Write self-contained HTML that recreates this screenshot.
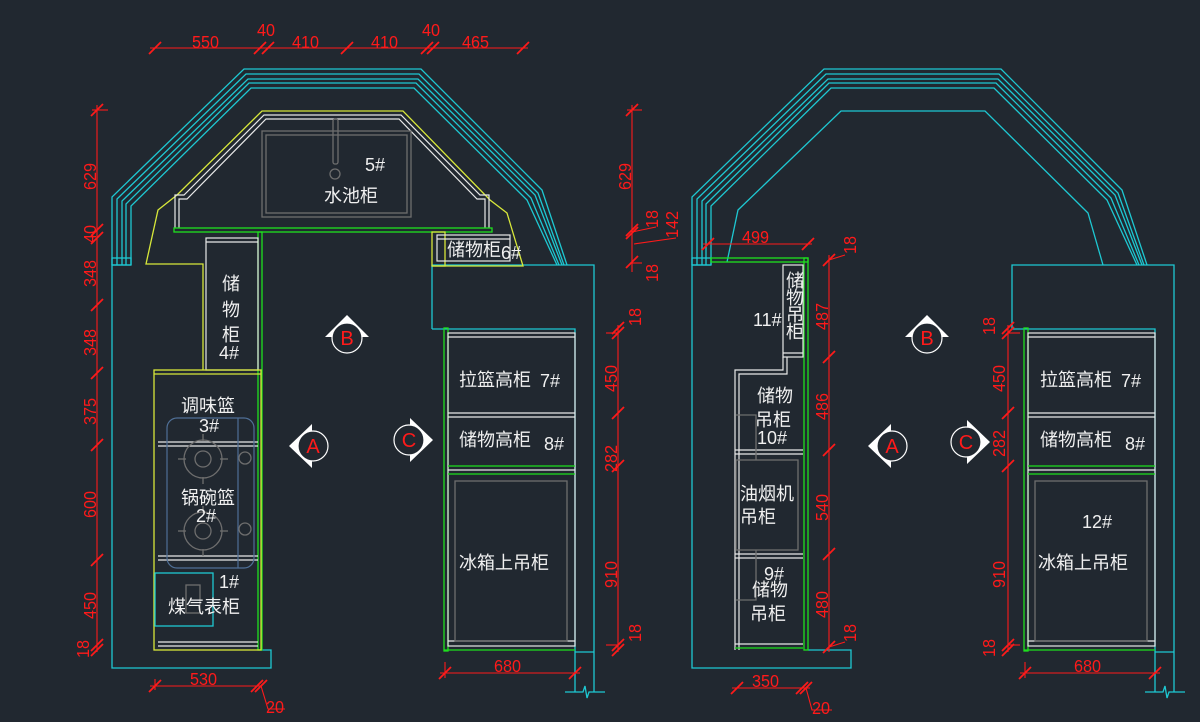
<!DOCTYPE html>
<html><head><meta charset="utf-8"><style>
html,body{margin:0;padding:0;background:#212830;}
svg{display:block;}
text{font-family:"Liberation Sans","Noto Sans CJK SC",sans-serif;}
.c{fill:none;stroke:#1ec8d2;stroke-width:1.3}
.y{fill:none;stroke:#d8e83a;stroke-width:1.3}
.g{fill:none;stroke:#1ee01e;stroke-width:1.3}
.w{fill:none;stroke:#e8e8e8;stroke-width:1.2}
.gr{fill:none;stroke:#6e6e6e;stroke-width:1.3}
.r{fill:none;stroke:#ff1a1a;stroke-width:1.1}
.rt{fill:#ff1a1a;font-size:18px}
.wt{fill:#f0f0f0;font-size:18px;font-family:"Liberation Sans","Noto Sans CJK SC",sans-serif}
.mk{fill:#ff1a1a;font-size:20px}
</style></head><body>
<svg width="1200" height="722" viewBox="0 0 1200 722" xmlns="http://www.w3.org/2000/svg">
<defs>
<g id="octo">
<polyline class="c" points="112,265 112,197 244,69 421,69 542,190 567,265"/>
<polyline class="c" points="117,265 117,199 246,74 419,74 538,193 564,265"/>
<polyline class="c" points="122,265 122,201 248,79 418,79 535,195 562,265"/>
<polyline class="c" points="126,265 126,204 249,83 416,83 531,198 559,265"/>
<polyline class="c" points="131,265 131,206 251,88 414,88 527,200 557,265"/>
<rect class="c" x="112" y="258" width="19" height="7"/>
<polyline class="c" points="432,329 432,265 594,265 594,692"/>
<polyline class="c" points="432,329 575,329 575,692"/>
<line class="c" x1="575" y1="652" x2="594" y2="652"/>
<polyline class="c" points="565,692 583,692 585,686 587,698 589,692 605,692"/>
<rect class="g" x="444" y="328" width="4" height="323"/>
<rect class="w" x="448" y="333" width="127" height="313"/>
<line class="w" x1="448" y1="337" x2="575" y2="337"/>
<line class="w" x1="448" y1="413" x2="575" y2="413"/>
<line class="w" x1="448" y1="417" x2="575" y2="417"/>
<line class="g" x1="448" y1="466" x2="575" y2="466"/>
<line class="w" x1="448" y1="470" x2="575" y2="470"/>
<line class="g" x1="448" y1="474" x2="575" y2="474"/>
<line class="w" x1="448" y1="641" x2="575" y2="641"/>
<line class="g" x1="444" y1="650" x2="575" y2="650"/>
<rect class="gr" x="455" y="481" width="112" height="160"/>
</g>
<g id="mB"><polygon points="0,-23 -22,-1 22,-1" fill="#fff"/><circle r="15" fill="#212830" stroke="#fff" stroke-width="1.2"/><text class="mk" x="0" y="7" text-anchor="middle">B</text></g>
<g id="mA"><polygon points="-24,0 -1,-22 -1,22" fill="#fff"/><circle r="15" fill="#212830" stroke="#fff" stroke-width="1.2"/><text class="mk" x="0" y="7" text-anchor="middle">A</text></g>
<g id="mC"><polygon points="24,0 1,-22 1,22" fill="#fff"/><circle r="15" fill="#212830" stroke="#fff" stroke-width="1.2"/><text class="mk" x="0" y="7" text-anchor="middle">C</text></g>
<g id="tk"><line x1="-6" y1="6" x2="6" y2="-6" stroke="#ff1a1a" stroke-width="1.8"/></g>
</defs>

<!-- LEFT PLAN -->
<use href="#octo"/>
<polyline class="c" points="131,265 112,265 112,668 271,668 271,650 261,650"/>
<polyline class="y" points="203,370 203,264 146,264 158,210 177,195 262,111 403,111 490,200 507,213 523,266 432,266"/>
<polyline class="w" points="175,228 175,195 184,195 264,115 401,115 480,195 489,195 489,228"/>
<polyline class="w" points="179,228 179,199 187,199 266,119 399,119 477,199 485,199 485,228"/>
<rect class="gr" x="262" y="131" width="149" height="86"/>
<rect class="gr" x="266" y="135" width="141" height="78"/>
<rect class="gr" x="333" y="119" width="5" height="45" rx="2"/>
<circle class="gr" cx="335" cy="174" r="5"/>
<text class="wt" x="365" y="171" font-size="15">5#</text>
<text class="wt" x="324" y="202">水池柜</text>
<rect class="g" x="174" y="228" width="318" height="4"/>
<rect class="y" x="432" y="232" width="13" height="34"/>
<rect class="w" x="437" y="235" width="73" height="26"/>
<line class="w" x1="437" y1="239" x2="510" y2="239"/>
<text class="wt" x="447" y="256">储物柜</text><text class="wt" x="501" y="259" font-size="15">6#</text>
<rect class="g" x="258" y="232" width="4" height="418"/>
<rect class="w" x="206" y="238" width="52" height="132"/>
<line class="w" x1="206" y1="242" x2="258" y2="242"/>
<text class="wt" x="222" y="290">储</text><text class="wt" x="222" y="316">物</text><text class="wt" x="222" y="341">柜</text><text class="wt" x="219" y="359" font-size="15">4#</text>
<rect class="y" x="154" y="370" width="107" height="280"/>
<line class="y" x1="154" y1="374" x2="261" y2="374"/>
<line class="w" x1="158" y1="442" x2="258" y2="442"/>
<line class="w" x1="158" y1="446" x2="258" y2="446"/>
<line class="w" x1="158" y1="556" x2="258" y2="556"/>
<line class="w" x1="158" y1="560" x2="258" y2="560"/>
<line class="w" x1="158" y1="642" x2="258" y2="642"/>
<line class="w" x1="158" y1="646" x2="258" y2="646"/>
<rect x="167" y="418" width="87" height="150" rx="10" fill="none" stroke="#4f6f96" stroke-width="1.2"/>
<line x1="238" y1="418" x2="238" y2="568" stroke="#4f6f96" stroke-width="1.2"/>
<g class="gr" stroke-width="1.6">
<circle cx="203" cy="459" r="19"/><circle cx="203" cy="459" r="8"/>
<line x1="178" y1="459" x2="186" y2="459"/><line x1="220" y1="459" x2="228" y2="459"/><line x1="203" y1="434" x2="203" y2="441"/><line x1="203" y1="477" x2="203" y2="484"/>
<circle cx="203" cy="531" r="19"/><circle cx="203" cy="531" r="8"/>
<line x1="178" y1="531" x2="186" y2="531"/><line x1="220" y1="531" x2="228" y2="531"/><line x1="203" y1="506" x2="203" y2="513"/><line x1="203" y1="549" x2="203" y2="556"/>
<circle cx="245" cy="458" r="6"/><circle cx="245" cy="529" r="6"/>
<rect x="186" y="585" width="14" height="28"/>
</g>
<rect class="c" x="155" y="573" width="58" height="53"/>
<text class="wt" x="181" y="412">调味篮</text>
<text class="wt" x="199" y="432" font-size="15">3#</text>
<text class="wt" x="181" y="504">锅碗篮</text>
<text class="wt" x="196" y="522" font-size="15">2#</text>
<text class="wt" x="219" y="588" font-size="15">1#</text>
<text class="wt" x="168" y="613">煤气表柜</text>
<text class="wt" x="459" y="386">拉篮高柜</text><text class="wt" x="540" y="387" font-size="15">7#</text>
<text class="wt" x="459" y="446">储物高柜</text><text class="wt" x="544" y="450" font-size="15">8#</text>
<text class="wt" x="459" y="569">冰箱上吊柜</text>
<use href="#mB" x="347" y="338"/><use href="#mA" x="313" y="446"/><use href="#mC" x="409" y="440"/>

<line class="r" x1="150" y1="48" x2="528" y2="48"/>
<use href="#tk" x="155" y="48"/><use href="#tk" x="260" y="48"/><use href="#tk" x="268" y="48"/><use href="#tk" x="347" y="48"/><use href="#tk" x="427" y="48"/><use href="#tk" x="433" y="48"/><use href="#tk" x="523" y="48"/>
<g class="rt">
<text transform="translate(192,48) scale(0.9,1)">550</text><text transform="translate(257,36) scale(0.9,1)">40</text><text transform="translate(292,48) scale(0.9,1)">410</text><text transform="translate(371,48) scale(0.9,1)">410</text><text transform="translate(422,36) scale(0.9,1)">40</text><text transform="translate(462,48) scale(0.9,1)">465</text>
</g>
<line class="r" x1="97" y1="105" x2="97" y2="652"/>
<line class="r" x1="92" y1="110" x2="108" y2="110"/>
<use href="#tk" x="97" y="110"/><use href="#tk" x="97" y="230"/><use href="#tk" x="97" y="238"/><use href="#tk" x="97" y="305"/><use href="#tk" x="97" y="373"/><use href="#tk" x="97" y="445"/><use href="#tk" x="97" y="560"/><use href="#tk" x="97" y="645"/><use href="#tk" x="97" y="650"/>
<g class="rt">
<text transform="translate(96,190) rotate(-90) scale(0.9,1)">629</text>
<text transform="translate(96,243) rotate(-90) scale(0.9,1)">40</text>
<text transform="translate(96,287) rotate(-90) scale(0.9,1)">348</text>
<text transform="translate(96,356) rotate(-90) scale(0.9,1)">348</text>
<text transform="translate(96,425) rotate(-90) scale(0.9,1)">375</text>
<text transform="translate(96,518) rotate(-90) scale(0.9,1)">600</text>
<text transform="translate(96,619) rotate(-90) scale(0.9,1)">450</text>
<text transform="translate(89,658) rotate(-90) scale(0.9,1)">18</text>
</g>
<line class="r" x1="618" y1="325" x2="618" y2="652"/>
<use href="#tk" x="618" y="328"/><use href="#tk" x="618" y="333"/><use href="#tk" x="618" y="413"/><use href="#tk" x="618" y="466"/><use href="#tk" x="618" y="645"/><use href="#tk" x="618" y="650"/>
<line class="r" x1="606" y1="333" x2="618" y2="333"/><line class="r" x1="606" y1="645" x2="618" y2="645"/>
<g class="rt">
<text transform="translate(641,326) rotate(-90) scale(0.9,1)">18</text>
<text transform="translate(617,392) rotate(-90) scale(0.9,1)">450</text>
<text transform="translate(617,472) rotate(-90) scale(0.9,1)">282</text>
<text transform="translate(617,588) rotate(-90) scale(0.9,1)">910</text>
<text transform="translate(641,642) rotate(-90) scale(0.9,1)">18</text>
</g>
<line class="r" x1="150" y1="686" x2="262" y2="686"/><line class="r" x1="155" y1="679" x2="155" y2="690"/>
<use href="#tk" x="155" y="686"/><use href="#tk" x="257" y="686"/><use href="#tk" x="261" y="686"/>
<polyline class="r" points="261,686 268,709 285,709"/>
<g class="rt"><text transform="translate(190,685) scale(0.9,1)">530</text><text transform="translate(266,713) scale(0.9,1)">20</text>
<text transform="translate(494,672) scale(0.9,1)">680</text></g>
<line class="r" x1="440" y1="673" x2="580" y2="673"/><line class="r" x1="445" y1="662" x2="445" y2="678"/>
<use href="#tk" x="445" y="673"/><use href="#tk" x="575" y="673"/>

<!-- RIGHT PLAN -->
<use href="#octo" x="580"/>
<polyline class="c" points="727,262 738,210 841,111 985,111 1088,213 1103,265"/>
<polyline class="c" points="711,265 692,265 692,668 851,668 851,650 808,650"/>
<rect class="g" x="711" y="258" width="97" height="4"/>
<rect class="g" x="804" y="258" width="4" height="392"/>
<rect class="w" x="783" y="265" width="20" height="92"/>
<line class="w" x1="783" y1="353" x2="803" y2="353"/>
<polyline class="w" points="735,650 735,370 783,370 783,357"/>
<polyline class="w" points="739,650 739,374 787,374 787,357"/>
<line class="w" x1="735" y1="450" x2="803" y2="450"/><line class="w" x1="735" y1="454" x2="803" y2="454"/>
<line class="w" x1="735" y1="554" x2="803" y2="554"/><line class="w" x1="735" y1="558" x2="803" y2="558"/>
<line class="w" x1="735" y1="644" x2="803" y2="644"/>
<line class="g" x1="735" y1="648" x2="803" y2="648"/>
<rect class="gr" x="736" y="460" width="62" height="90"/>
<polyline class="gr" points="736,415 756,415 756,460"/>
<polyline class="gr" points="736,600 756,600 756,550"/>
<text class="wt" x="786" y="287" font-size="14">储</text><text class="wt" x="786" y="304" font-size="14">物</text><text class="wt" x="786" y="321" font-size="14">吊</text><text class="wt" x="786" y="338" font-size="14">柜</text>
<text class="wt" x="753" y="326" font-size="15">11#</text>
<text class="wt" x="757" y="402">储物</text><text class="wt" x="755" y="426">吊柜</text><text class="wt" x="757" y="444" font-size="15">10#</text>
<text class="wt" x="740" y="500">油烟机</text><text class="wt" x="740" y="523">吊柜</text>
<text class="wt" x="764" y="580" font-size="15">9#</text><text class="wt" x="752" y="596">储物</text><text class="wt" x="750" y="620">吊柜</text>
<text class="wt" x="1040" y="386">拉篮高柜</text><text class="wt" x="1121" y="387" font-size="15">7#</text>
<text class="wt" x="1040" y="446">储物高柜</text><text class="wt" x="1125" y="450" font-size="15">8#</text>
<text class="wt" x="1082" y="528" font-size="15">12#</text>
<text class="wt" x="1038" y="569">冰箱上吊柜</text>
<use href="#mB" x="927" y="338"/><use href="#mA" x="892" y="446"/><use href="#mC" x="966" y="442"/>

<line class="r" x1="632" y1="105" x2="632" y2="272"/>
<line class="r" x1="627" y1="110" x2="642" y2="110"/>
<use href="#tk" x="632" y="110"/><use href="#tk" x="632" y="230"/><use href="#tk" x="632" y="233"/><use href="#tk" x="632" y="262"/>
<line class="r" x1="632" y1="232" x2="656" y2="227"/><line class="r" x1="634" y1="244" x2="676" y2="238"/><line class="r" x1="632" y1="263" x2="642" y2="263"/>
<g class="rt">
<text transform="translate(631,190) rotate(-90) scale(0.9,1)">629</text>
<text transform="translate(658,228) rotate(-90) scale(0.9,1)">18</text>
<text transform="translate(678,238) rotate(-90) scale(0.9,1)">142</text>
<text transform="translate(658,282) rotate(-90) scale(0.9,1)">18</text>
</g>
<line class="r" x1="703" y1="244" x2="812" y2="244"/>
<use href="#tk" x="708" y="244"/><use href="#tk" x="808" y="244"/>
<text class="rt" transform="translate(742,243) scale(0.9,1)">499</text>
<line class="r" x1="829" y1="255" x2="829" y2="652"/>
<use href="#tk" x="829" y="260"/><use href="#tk" x="829" y="357"/><use href="#tk" x="829" y="450"/><use href="#tk" x="829" y="554"/><use href="#tk" x="829" y="647"/>
<line class="r" x1="829" y1="260" x2="845" y2="255"/><line class="r" x1="829" y1="647" x2="845" y2="642"/>
<g class="rt">
<text transform="translate(856,254) rotate(-90) scale(0.9,1)">18</text>
<text transform="translate(828,330) rotate(-90) scale(0.9,1)">487</text>
<text transform="translate(828,420) rotate(-90) scale(0.9,1)">486</text>
<text transform="translate(828,521) rotate(-90) scale(0.9,1)">540</text>
<text transform="translate(828,618) rotate(-90) scale(0.9,1)">480</text>
<text transform="translate(856,642) rotate(-90) scale(0.9,1)">18</text>
</g>
<line class="r" x1="1008" y1="325" x2="1008" y2="652"/>
<use href="#tk" x="1008" y="328"/><use href="#tk" x="1008" y="333"/><use href="#tk" x="1008" y="413"/><use href="#tk" x="1008" y="466"/><use href="#tk" x="1008" y="645"/><use href="#tk" x="1008" y="650"/>
<line class="r" x1="1008" y1="333" x2="1020" y2="333"/><line class="r" x1="1008" y1="645" x2="1020" y2="645"/>
<g class="rt">
<text transform="translate(995,335) rotate(-90) scale(0.9,1)">18</text>
<text transform="translate(1005,392) rotate(-90) scale(0.9,1)">450</text>
<text transform="translate(1005,457) rotate(-90) scale(0.9,1)">282</text>
<text transform="translate(1005,588) rotate(-90) scale(0.9,1)">910</text>
<text transform="translate(995,657) rotate(-90) scale(0.9,1)">18</text>
</g>
<line class="r" x1="732" y1="688" x2="810" y2="688"/>
<use href="#tk" x="737" y="688"/><use href="#tk" x="802" y="688"/><use href="#tk" x="806" y="688"/>
<polyline class="r" points="806,688 812,710 832,710"/>
<g class="rt"><text transform="translate(752,687) scale(0.9,1)">350</text><text transform="translate(812,714) scale(0.9,1)">20</text>
<text transform="translate(1074,672) scale(0.9,1)">680</text></g>
<line class="r" x1="1020" y1="673" x2="1160" y2="673"/><line class="r" x1="1025" y1="662" x2="1025" y2="678"/>
<use href="#tk" x="1025" y="673"/><use href="#tk" x="1155" y="673"/>
</svg>
</body></html>
